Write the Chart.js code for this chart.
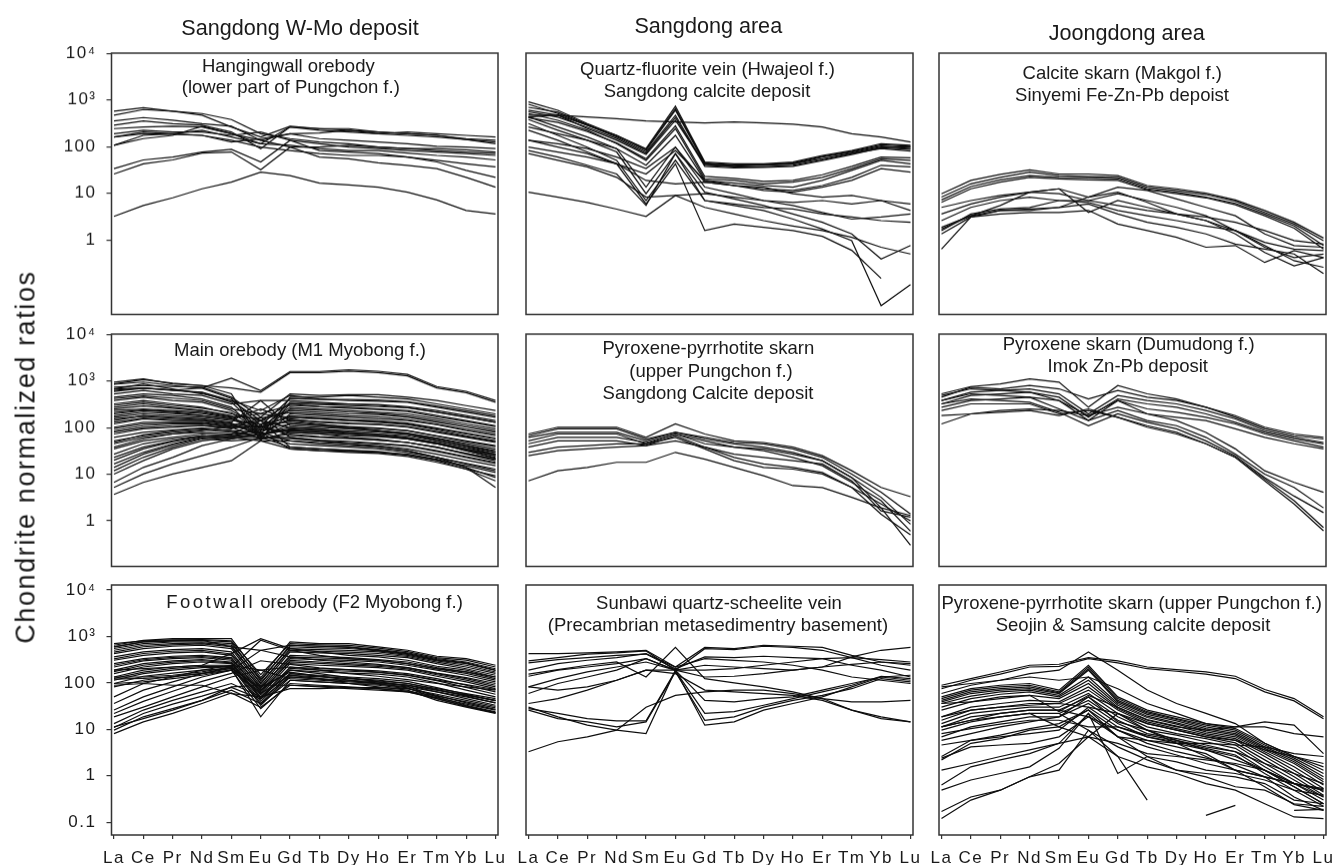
<!DOCTYPE html>
<html>
<head>
<meta charset="utf-8">
<script src="https://cdn.jsdelivr.net/npm/chart.js@4.4.1/dist/chart.umd.min.js"></script>
<style>
html, body { margin: 0; padding: 0; background: #fff; }
#fig { position: relative; width: 1337px; height: 865px; overflow: hidden;
       font-family: "Liberation Sans", Arial, sans-serif; color: #1a1a1a; }
.panel { position: absolute; }
.txt { position: absolute; white-space: nowrap; line-height: 1; transform: translateX(-50%); }
.ylab { position: absolute; white-space: nowrap; line-height: 1; transform: translate(-50%, -50%) rotate(-90deg); }
</style>
</head>
<body>
<div id="fig"></div>
<script>
/* AXES */
const REE = ["La", "Ce", "Pr", "Nd", "Sm", "Eu", "Gd", "Tb", "Dy", "Ho", "Er", "Tm", "Yb", "Lu"];
const Y_TICKS = [0.1, 1, 10, 100, 1000, 10000];
const Y_TICK_LABELS = ["0.1", "1", "10", "100", "10³", "10⁴"];

/* DATA: chondrite normalized REE, one row per sample, La..Lu */
const hangingwall = [
    [575, 686, 575, 513, 381, 190, 149, 126, 116, 98, 91, 83, 77, 71],
    [472, 625, 575, 472, 265, 161, 274, 244, 244, 207, 190, 175, 149, 137],
    [356, 421, 368, 312, 274, 137, 190, 197, 225, 190, 207, 190, 175, 161],
    [288, 356, 312, 288, 207, 91, 265, 225, 207, 190, 175, 161, 142, 126],
    [244, 265, 274, 265, 190, 137, 98, 98, 107, 98, 91, 91, 86, 77],
    [190, 225, 207, 207, 175, 207, 137, 116, 98, 91, 83, 77, 71, 65],
    [161, 207, 190, 225, 161, 116, 107, 91, 83, 83, 73, 65, 60, 52],
    [107, 149, 175, 274, 190, 116, 265, 244, 225, 207, 190, 175, 142, 116],
    [107, 175, 190, 175, 137, 98, 83, 71, 65, 65, 60, 51, 43, 37],
    [161, 190, 184, 175, 126, 149, 190, 149, 137, 126, 116, 102, 98, 91],
    [34, 52, 60, 77, 88, 47, 137, 83, 77, 71, 60, 47, 31, 22],
    [26, 43, 52, 73, 77, 32, 98, 60, 55, 45, 40, 34, 22, 13.6],
    [3.2, 5.5, 8, 12.5, 17.4, 28.5, 24, 16.5, 15.2, 13.6, 10.6, 7.2, 4.3, 3.6]
];

const quartzFluorite = [
    [434, 472, 434, 400, 355, 340, 323, 340, 323, 302, 265, 190, 161, 126],
    [912, 604, 312, 175, 91, 737, 47, 43, 43, 47, 65, 83, 116, 107],
    [810, 513, 288, 175, 83, 604, 43, 40, 40, 43, 60, 77, 103, 91],
    [700, 550, 300, 170, 88, 650, 45, 41, 41, 45, 62, 80, 110, 102],
    [604, 472, 288, 161, 77, 472, 40, 37, 37, 40, 52, 71, 91, 81],
    [560, 430, 260, 150, 72, 420, 38, 35, 36, 38, 50, 68, 95, 88],
    [472, 472, 244, 137, 68, 368, 42, 38, 42, 43, 55, 73, 98, 98],
    [513, 368, 225, 116, 51, 244, 20.5, 19, 16, 17.4, 22, 34, 55, 51],
    [420, 330, 210, 120, 55, 280, 23, 21, 18, 19, 25, 38, 60, 58],
    [265, 190, 137, 91, 40, 175, 19, 16.5, 14.7, 13.6, 19, 31, 51, 43],
    [137, 116, 91, 60, 34, 98, 17.4, 14.7, 12.5, 11.5, 14.7, 22, 40, 37],
    [98, 77, 60, 43, 26, 83, 19, 14.7, 11.5, 10.6, 13.6, 19, 34, 28.5],
    [434, 265, 161, 91, 13.6, 98, 13.6, 9.8, 7, 5.5, 3.9, 2.8, 3.1, 3.6],
    [381, 225, 137, 77, 9.8, 71, 10.6, 7.6, 5.5, 3.6, 2.4, 1.35, 0.39, 0.76],
    [312, 175, 98, 51, 7, 51, 7, 5.5, 4.3, 2.8, 1.72, 0.97, 0.039, 0.11],
    [225, 137, 77, 43, 5.9, 43, 1.59, 2.2, 1.87, 1.59, 1.2, 0.6, 0.15, null],
    [71, 51, 37, 22, 8.3, 9, 9.8, 8.3, 7, 6.4, 7, 5.9, 7, 5.9],
    [10.6, 8.3, 6.4, 4.6, 3.2, 9, 5, 3.6, 2.6, 2, 1.59, 1.14, 0.7, 0.5],
    [83, 60, 40, 26, 5.5, 71, 7, 5.9, 5, 4.6, 3.6, 3.1, 2.6, 2.4],
    [137, 98, 71, 43, 18.9, 16, 17.4, 14.7, 13.6, 9.8, 8.3, 9, 7, 4.3]
];

const calciteSkarn = [
    [9.8, 18.9, 25.5, 32, 26, 26, 24, 14.7, 12.5, 10.1, 7.2, 4.3, 2.4, 1.1],
    [8.3, 16, 22, 28.5, 24, 23, 22, 13.6, 11.5, 9.4, 6.8, 3.9, 2.2, 0.97],
    [7.2, 14, 19.5, 24, 22, 21.5, 20.5, 12.5, 10.6, 8.3, 6.1, 3.6, 2, 0.76],
    [6.4, 12.5, 17.4, 22, 20.5, 19.5, 18.9, 11.9, 9.8, 8, 5.7, 3.3, 1.8, 0.64],
    [5, 7, 9, 10.6, 12.5, 8.3, 13.6, 11.5, 7.6, 5, 3.3, 1.35, 0.76, 0.7],
    [3.6, 5.9, 8.3, 10.6, 9.8, 7, 5.5, 4.3, 3.6, 3.1, 2.4, 1.59, 0.97, 0.82],
    [2.6, 5, 7, 8.3, 7, 6.4, 4.3, 3.3, 2.6, 2, 1.59, 0.76, 0.36, 0.26],
    [1.87, 3.3, 4.3, 4.3, 5, 8.3, 10.6, 6.4, 3.6, 2.6, 1.59, 0.7, 0.42, 0.5],
    [1.72, 3.3, 5.5, 10.6, 12.5, 3.9, 7, 5, 3.6, 2.6, 1.35, 0.54, 0.28, 0.42],
    [1.35, 3.1, 4.3, 4.6, 5, 5.9, 3.6, 2.4, 1.87, 1.35, 0.82, 0.64, 0.5, 0.19],
    [0.64, 3.1, 3.6, 3.9, 3.9, 4.3, 2.2, 1.59, 1.14, 0.7, 0.76, 0.33, 0.59, 0.42],
    [1.59, 3.6, 4.6, 5, 7, 7, 9.8, 7, 5, 3.3, 1.59, 0.89, 0.64, 0.59]
];

const mainOrebody = [
    [944, 1114, 869, 800, 530, 52, 449, 449, 488, 449, 413, 323, 252, 197],
    [850, 950, 800, 700, 420, 110, 420, 400, 400, 390, 360, 290, 230, 180],
    [737, 800, 760, 737, 449, 167, 530, 488, 510, 510, 449, 381, 297, 232],
    [679, 869, 679, 530, 381, 232, 488, 413, 381, 370, 351, 274, 214, 167],
    [600, 700, 640, 560, 350, 90, 350, 330, 320, 300, 270, 215, 170, 130],
    [530, 625, 530, 488, 323, 381, 381, 351, 323, 312, 282, 232, 181, 142],
    [449, 530, 488, 413, 274, 73, 323, 282, 274, 252, 232, 181, 142, 110],
    [420, 480, 430, 380, 250, 200, 300, 280, 260, 245, 220, 170, 135, 105],
    [381, 449, 381, 351, 232, 102, 274, 252, 232, 214, 197, 154, 120, 94],
    [323, 381, 323, 274, 197, 142, 232, 214, 197, 191, 167, 130, 102, 79],
    [300, 350, 300, 260, 210, 85, 250, 235, 215, 200, 180, 140, 110, 85],
    [274, 323, 274, 232, 181, 62, 197, 181, 167, 154, 142, 116, 86, 67],
    [250, 290, 260, 230, 175, 160, 210, 195, 180, 170, 150, 118, 92, 72],
    [232, 252, 232, 214, 167, 197, 167, 154, 142, 137, 120, 94, 73, 57],
    [210, 240, 220, 200, 160, 100, 180, 165, 150, 140, 125, 98, 76, 60],
    [197, 232, 214, 181, 154, 79, 154, 130, 120, 116, 102, 79, 62, 48],
    [180, 215, 200, 180, 150, 250, 145, 135, 125, 118, 105, 82, 64, 50],
    [167, 197, 181, 167, 142, 120, 130, 116, 105, 98, 86, 67, 52, 41],
    [155, 175, 160, 150, 125, 65, 120, 110, 100, 95, 85, 66, 50, 39],
    [142, 181, 167, 154, 130, 381, 110, 102, 94, 86, 76, 60, 46, 35],
    [130, 160, 150, 140, 115, 140, 100, 92, 85, 80, 72, 56, 42, 32],
    [120, 154, 142, 142, 120, 73, 94, 86, 79, 73, 67, 52, 39, 29.5],
    [102, 130, 130, 130, 110, 102, 79, 73, 67, 64, 57, 45, 33, 25],
    [95, 120, 125, 125, 105, 90, 85, 78, 72, 68, 60, 47, 35, 27],
    [86, 110, 120, 120, 102, 57, 73, 64, 60, 54, 48, 38, 28, 21],
    [80, 100, 110, 112, 98, 110, 68, 62, 58, 54, 48, 37, 28, 21],
    [73, 94, 102, 110, 94, 167, 62, 54, 51, 46, 41, 32, 24, 18],
    [62, 79, 89, 98, 86, 79, 52, 48, 45, 41, 35, 27, 20, 15.2],
    [52, 67, 79, 89, 79, 67, 45, 41, 38, 35, 29.5, 23, 17, 12.9],
    [48, 70, 85, 95, 85, 60, 58, 52, 48, 45, 40, 31, 23, 17],
    [45, 62, 73, 79, 73, 142, 38, 35, 33, 31, 26, 20, 15.2, 10.9],
    [35, 52, 62, 73, 67, 79, 35, 32, 29.5, 28, 24, 18, 12.9, 9.3],
    [27, 45, 57, 67, 62, 62, 62, 52, 45, 38, 32, 23, 16.6, 11.9],
    [23, 38, 52, 67, 62, 102, 142, 120, 102, 86, 73, 52, 38, 27],
    [20, 35, 50, 65, 70, 88, 120, 110, 95, 85, 75, 58, 42, 30],
    [16.6, 29.5, 45, 62, 57, 73, 102, 94, 79, 73, 62, 48, 35, 25],
    [14, 27, 42, 60, 65, 70, 90, 85, 75, 68, 58, 45, 32, 22],
    [11.9, 23, 38, 57, 52, 57, 79, 73, 62, 57, 48, 38, 27, 19.5],
    [10.1, 19.5, 35, 52, 62, 52, 35, 32, 31, 29.5, 27, 21, 14, 8.5],
    [6.7, 14, 23, 41, 57, 73, 86, 79, 73, 67, 57, 45, 32, 23],
    [5.2, 10.1, 16.6, 25, 38, 62, 38, 35, 32, 29.5, 26, 19.5, 12.9, 7.2],
    [3.7, 6.7, 10.1, 14, 19.5, 52, 52, 45, 41, 38, 32, 23, 14, 5.2],
    [38, 57, 73, 86, 110, 120, 167, 154, 142, 130, 116, 89, 67, 52],
    [625, 710, 625, 575, 381, 142, 323, 312, 297, 282, 265, 214, 167, 130],
    [679, 710, 640, 710, 1150, 625, 1600, 1600, 1740, 1620, 1390, 760, 600, 381],
    [869, 1070, 900, 800, 710, 575, 1510, 1510, 1620, 1510, 1290, 710, 560, 351]
];

const pyrrhotiteSangdong = [
    [73, 102, 102, 102, 62, 120, 73, 52, 48, 38, 25, 11.9, 5.2, 3.3],
    [67, 94, 94, 94, 57, 79, 62, 48, 45, 35, 23, 10.1, 4.1, 1.4],
    [62, 79, 79, 79, 52, 79, 57, 45, 38, 29.5, 19.5, 8.5, 3.2, 0.85],
    [52, 73, 73, 73, 45, 73, 52, 38, 32, 23, 15.2, 6.7, 2.7, 0.6],
    [45, 62, 62, 62, 48, 73, 45, 38, 35, 27, 19.5, 8.5, 1.9, 0.3],
    [38, 52, 52, 52, 41, 67, 38, 27, 23, 19.5, 16.6, 7.2, 1.64, 1.2],
    [29.5, 38, 41, 45, 45, 62, 35, 19.5, 14, 12.9, 10.1, 5.2, 1.39, 0.5],
    [25, 32, 35, 38, 41, 52, 38, 23, 16.6, 14, 10.9, 5.2, 2.3, 1.0],
    [7.2, 11.9, 14, 18, 18, 29.5, 21, 14, 9.3, 5.7, 5.2, 3.2, 1.9, 1.3]
];

const pyroxeneImok = [
    [530, 760, 869, 1114, 944, 274, 800, 530, 413, 274, 181, 102, 73, 62],
    [449, 737, 679, 800, 679, 413, 625, 449, 381, 274, 167, 94, 67, 57],
    [381, 575, 625, 679, 530, 197, 488, 381, 323, 232, 154, 86, 62, 48],
    [323, 488, 530, 575, 449, 167, 413, 323, 274, 197, 130, 79, 57, 45],
    [274, 381, 413, 449, 381, 142, 381, 252, 214, 167, 120, 73, 52, 38],
    [181, 197, 232, 252, 232, 181, 274, 197, 167, 142, 94, 62, 45, 35],
    [488, 679, 625, 575, 381, 181, 381, 197, 142, 79, 35, 11.9, 6.7, 4.1],
    [381, 530, 488, 449, 252, 142, 232, 142, 110, 62, 27, 10.1, 5.2, 1.9],
    [323, 413, 381, 351, 214, 110, 197, 130, 94, 52, 25, 8.5, 3.4, 1.5],
    [232, 323, 323, 323, 197, 232, 167, 110, 79, 45, 23, 7.9, 2.7, 0.72],
    [120, 197, 214, 232, 181, 252, 167, 102, 73, 45, 23, 7.2, 2.3, 0.61]
];

const footwall = [
    [700, 800, 850, 860, 800, 150, 700, 660, 640, 560, 470, 350, 310, 220],
    [646, 827, 898, 898, 898, 130, 762, 701, 701, 595, 504, 375, 334, 240],
    [595, 762, 827, 827, 762, 110, 646, 615, 595, 522, 442, 334, 282, 202],
    [550, 700, 760, 770, 700, 120, 600, 570, 550, 490, 410, 310, 260, 185],
    [504, 646, 701, 725, 646, 95, 546, 522, 504, 465, 392, 297, 240, 172],
    [460, 600, 660, 690, 600, 100, 500, 480, 460, 430, 370, 280, 220, 160],
    [427, 546, 615, 646, 546, 85, 465, 442, 427, 392, 351, 260, 202, 146],
    [363, 465, 522, 546, 465, 75, 392, 375, 351, 318, 282, 214, 172, 124],
    [330, 430, 480, 500, 420, 80, 360, 345, 330, 300, 260, 200, 160, 115],
    [307, 392, 442, 465, 392, 68, 334, 318, 307, 282, 240, 188, 146, 105],
    [260, 334, 375, 392, 351, 60, 307, 282, 260, 240, 214, 158, 124, 89],
    [240, 315, 355, 370, 330, 65, 285, 262, 245, 228, 200, 150, 115, 82],
    [220, 297, 334, 351, 307, 55, 260, 240, 228, 214, 188, 139, 105, 75],
    [188, 260, 297, 318, 282, 50, 220, 202, 193, 181, 158, 124, 89, 64],
    [175, 240, 280, 300, 270, 48, 205, 188, 178, 168, 145, 112, 80, 57],
    [158, 220, 260, 282, 260, 45, 188, 172, 163, 154, 134, 100, 70, 50],
    [134, 188, 220, 240, 240, 40, 158, 146, 134, 124, 108, 79, 57, 41],
    [125, 170, 205, 228, 230, 36, 145, 135, 125, 115, 98, 72, 52, 37],
    [114, 158, 188, 214, 220, 33, 134, 124, 114, 105, 89, 64, 46, 33],
    [97, 139, 163, 188, 202, 18.6, 114, 105, 97, 89, 75, 54, 37, 27],
    [82, 114, 139, 158, 188, 28, 97, 89, 82, 75, 64, 46, 31, 22.6],
    [134, 134, 146, 172, 220, 70, 188, 158, 130, 105, 85, 50, 33, 23.7],
    [120, 125, 135, 160, 205, 80, 170, 140, 115, 95, 78, 46, 32, 23],
    [97, 105, 124, 146, 188, 59, 146, 124, 97, 82, 70, 42, 30, 22],
    [50, 97, 134, 188, 240, 188, 220, 188, 158, 139, 118, 97, 82, 70],
    [36, 70, 105, 158, 220, 827, 504, 392, 334, 307, 260, 202, 172, 134],
    [26, 50, 82, 134, 188, 504, 363, 307, 282, 250, 214, 163, 130, 97],
    [22, 40, 66, 108, 160, 300, 250, 210, 190, 170, 150, 115, 92, 72],
    [18.6, 30, 50, 82, 134, 188, 124, 114, 105, 97, 89, 70, 54, 42],
    [13.3, 26, 42, 64, 97, 50, 158, 139, 124, 110, 97, 75, 59, 46],
    [11, 22, 35, 52, 80, 45, 135, 120, 110, 100, 90, 70, 55, 42],
    [9.6, 18.6, 28, 42, 70, 36, 114, 105, 97, 94, 82, 64, 50, 37],
    [8.1, 14.5, 22, 36, 61, 30, 89, 85, 79, 75, 67, 52, 39, 29],
    [11.3, 17, 26, 42, 82, 89, 89, 82, 75, 70, 64, 48, 35, 26],
    [89, 97, 89, 89, 59, 50, 75, 75, 79, 79, 75, 57, 42, 31],
    [188, 202, 220, 240, 427, 898, 546, 465, 392, 363, 307, 228, 188, 134],
    [595, 762, 790, 827, 595, 504, 646, 615, 580, 504, 427, 318, 270, 188]
];

const sunbawi = [
    [427, 427, 442, 465, 504, 220, 580, 546, 646, 615, 580, 392, 282, 240],
    [297, 351, 418, 442, 488, 188, 546, 522, 615, 580, 504, 351, 240, 188],
    [270, 318, 351, 392, 418, 202, 363, 351, 375, 351, 334, 240, 188, 134],
    [188, 260, 307, 351, 427, 220, 334, 307, 282, 240, 188, 134, 114, 97],
    [154, 193, 240, 282, 134, 580, 124, 100, 82, 64, 46, 26, 18.6, 14.5],
    [82, 124, 172, 220, 282, 188, 188, 202, 240, 282, 334, 351, 318, 282],
    [59, 97, 134, 188, 334, 188, 134, 139, 158, 188, 220, 250, 282, 260],
    [36, 46, 70, 114, 188, 188, 240, 220, 202, 188, 220, 363, 504, 580],
    [30, 18.6, 12.3, 9.6, 8.1, 188, 12.3, 14.5, 26, 36, 50, 82, 134, 114],
    [26, 17, 14.5, 11.3, 14.5, 172, 15.7, 18.6, 30, 42, 54, 75, 124, 105],
    [28, 22, 17, 15.2, 15.2, 181, 22, 24, 33, 46, 64, 89, 139, 124],
    [3.3, 5.4, 6.9, 9.6, 30, 54, 64, 70, 70, 59, 46, 39, 39, 42],
    [82, 70, 82, 114, 188, 158, 70, 64, 59, 54, 42, 26, 17, 14.5],
    [139, 188, 220, 260, 334, 188, 42, 39, 46, 50, 70, 97, 134, 146]
];

const seojinSamsung = [
    [89, 124, 172, 240, 252, 351, 297, 220, 193, 172, 139, 72, 46, 18.6],
    [75, 114, 154, 220, 228, 334, 270, 202, 178, 154, 124, 64, 41, 17],
    [59, 89, 114, 158, 188, 465, 188, 70, 36, 22, 13.3, 5, 2.6, 1.56],
    [50, 75, 89, 97, 70, 240, 50, 26, 18.6, 13.3, 10.4, 5, 2.6, 1.32],
    [46, 70, 82, 89, 64, 220, 46, 24, 17, 12.3, 9.6, 4.6, 2.4, 1.12],
    [42, 64, 75, 82, 61, 202, 42, 22.6, 16.3, 11.3, 8.8, 4.2, 2.2, 0.95],
    [39, 59, 70, 75, 59, 188, 39, 21, 15.2, 10.4, 8.1, 3.9, 2, 0.83],
    [36, 52, 64, 70, 54, 134, 36, 19.2, 13.8, 9.6, 7.5, 3.6, 1.84, 0.74],
    [30, 46, 57, 64, 50, 114, 33, 18, 12.9, 8.8, 6.9, 3.3, 1.56, 0.63],
    [26, 39, 50, 54, 46, 97, 30, 16.3, 11.7, 8.1, 6.3, 3, 1.32, 0.53],
    [18.6, 30, 36, 42, 39, 82, 28, 14.5, 10.4, 7.5, 5.8, 2.6, 1.12, 0.45],
    [15.7, 26, 30, 36, 36, 70, 26, 13.3, 9.6, 6.9, 5.1, 2.2, 0.95, 0.38],
    [13.3, 22, 26, 30, 30, 59, 22, 11.3, 8.1, 6.3, 4.6, 1.84, 0.81, 0.35],
    [11.3, 18.6, 22, 26, 26, 50, 18.6, 9.6, 7.5, 5.4, 3.9, 1.56, 0.68, 0.3],
    [9.6, 14.5, 18.6, 22, 22, 42, 15.7, 8.1, 6.3, 4.6, 3.3, 1.32, 0.58, 0.25],
    [6.9, 11.3, 14.5, 18.6, 18.6, 36, 13.3, 6.9, 5.4, 3.9, 2.8, 1.12, 0.49, 0.22],
    [82, 97, 114, 134, 114, 134, 75, 36, 22, 13.3, 11.3, 11.3, 8.1, 6.9],
    [36, 39, 46, 54, 24, 54, 30, 15.7, 11.3, 9.6, 11.3, 14.5, 12.3, 3],
    [18.6, 26, 30, 33, 36, 30, 22, 9.6, 5, 2.6, 1.32, 0.95, 0.68, 0.49],
    [11.3, 15.7, 18.6, 22, 11.3, 6.9, 22, 13.3, 9.6, 6.9, 5.8, 3.6, 2.6, 1.84],
    [2.6, 5.8, 6.9, 8.1, 9.6, 30, 11.3, 6.9, 5, 3.6, 2.2, 1.32, 0.58, 0.25],
    [2.2, 5, 6.3, 9.6, 11.3, 26, 9.6, 5, 3.3, 2.4, 1.7, 0.95, 0.35, 0.18],
    [2.4, 4.2, 4.6, 5, 6.9, 18.6, 6.9, 4.2, 2.8, 1.84, 1.32, 0.95, 0.68, 0.53],
    [0.63, 1.56, 2.2, 3, 5, 22, 6.9, 5.8, 5, 5, 4.6, 4.2, 3, 2.6],
    [0.49, 0.81, 1.12, 1.56, 3.9, 22, 1.12, 2.6, 2, 1.32, 1.12, 0.81, 0.49, 0.38],
    [1.32, 1.84, 2.6, 3.6, 5, 6.9, 5, 3, 2.6, 2.2, 1.84, 1.32, 0.68, 0.49],
    [0.17, 0.35, 0.49, 0.95, 1.32, 9.6, 4.2, 2.2, 1.32, 1.12, 0.95, 0.68, 0.3, 0.25],
    [0.12, 0.3, 0.49, 0.95, 1.84, 6.9, 2.6, 1.56, 1.12, 0.68, 0.49, 0.25, 0.13, 0.12],
    [5.8, 8.1, 11.3, 14.5, 18.6, 50, 14.5, 9.6, 5.8, 3.6, 2.6, 1.32, 0.68, 0.35],
    [8.1, 10.4, 12.9, 15.7, 15.7, 11.3, 11.3, 7.5, 5.8, 4.2, 3.3, 1.84, 1.12, 0.68],
    [4.6, 5.8, 7.5, 10.4, 13.3, 26, 6.9, 2.6, 1.32, 0.95, 0.58, 0.49, 0.25, 0.22],
    [11.3, 15.7, 22, 26, 26, 18.6, 9.6, 5.8, 4.2, 3, 1.32, 0.58, 0.24, 0.18],
    [null, null, null, null, 22, 9.6, 2.6, 0.3, null, null, null, null, null, null],
    [null, null, null, null, null, null, null, null, null, 0.14, 0.23, null, null, null],
    [null, null, null, null, null, null, null, null, null, null, null, null, 0.18, 0.19]
];

/* LAYOUT */
const fig = document.getElementById("fig");
const INK = "#0d0d0d";
const PAD_X = 24;
const PAD_Y = 24;
const COLS = [
    { left: 111.5, width: 386.5 },
    { left: 526, width: 387 },
    { left: 938.5, width: 387 }
];
const ROWS = [
    { top: 53, height: 260.5, min: Math.pow(10, -1.596), max: Math.pow(10, 4.006), lowest: 1 },
    { top: 334, height: 231.5, min: Math.pow(10, -0.978), max: Math.pow(10, 4.006), lowest: 1 },
    { top: 585, height: 250, min: Math.pow(10, -1.275), max: Math.pow(10, 4.108), lowest: 0.1 }
];

/* PLUGINS */
const framePlugin = {
    id: "frame",
    afterDatasetsDraw(chart) {
        const { ctx, chartArea: a } = chart;
        ctx.save();
        ctx.strokeStyle = "#333";
        ctx.lineWidth = 1.5;
        ctx.strokeRect(a.left, a.top, a.right - a.left, a.bottom - a.top);
        ctx.restore();
    }
};
const spacingPlugin = {
    id: "spacing",
    beforeDraw(chart) { chart.ctx.letterSpacing = "1.5px"; }
};

Chart.defaults.font.family = '"Liberation Sans", Arial, sans-serif';

function makePanel(row, col, lines) {
    const r = ROWS[row], c = COLS[col];
    const hasY = col === 0;
    const hasX = row === 2;
    const left = hasY ? 0 : c.left - PAD_X;
    const top = r.top - PAD_Y;
    const width = c.left + c.width + PAD_X - left;
    const height = hasX ? 865 - top : r.height + 2 * PAD_Y;

    const holder = document.createElement("div");
    holder.className = "panel";
    holder.style.left = left + "px";
    holder.style.top = top + "px";
    holder.style.width = width + "px";
    holder.style.height = height + "px";
    const canvas = document.createElement("canvas");
    holder.appendChild(canvas);
    fig.appendChild(holder);

    new Chart(canvas, {
        type: "line",
        data: {
            datasets: lines.map(v => ({
                data: v.map((y, i) => ({ x: i, y: y })),
                borderColor: INK,
                borderWidth: 1.2,
                pointRadius: 0,
                tension: 0,
                fill: false
            }))
        },
        options: {
            responsive: true,
            maintainAspectRatio: false,
            animation: false,
            events: [],
            layout: { padding: { left: hasY ? 0 : PAD_X, right: PAD_X, top: PAD_Y, bottom: hasX ? 0 : PAD_Y } },
            plugins: { legend: { display: false }, tooltip: { enabled: false } },
            scales: {
                x: {
                    type: "linear",
                    min: -0.085,
                    max: 13.085,
                    display: hasX,
                    border: { display: false },
                    grid: { drawOnChartArea: false, tickLength: 4, color: "#333", lineWidth: 1.2 },
                    ticks: {
                        autoSkip: false, maxRotation: 0, minRotation: 0, padding: 9,
                        color: "#1a1a1a", font: { size: 17 },
                        callback: v => REE[Math.round(v)]
                    },
                    afterBuildTicks: s => { s.ticks = REE.map((_, i) => ({ value: i })); },
                    afterFit: s => { if (hasX) s.height = 865 - (r.top + r.height); }
                },
                y: {
                    type: "logarithmic",
                    min: r.min,
                    max: r.max,
                    display: hasY,
                    border: { display: false },
                    grid: { drawOnChartArea: false, tickLength: 5, color: "#333", lineWidth: 1.2 },
                    ticks: {
                        padding: 10, color: "#1a1a1a", font: { size: 17 },
                        callback: v => Y_TICK_LABELS[Y_TICKS.indexOf(v)]
                    },
                    afterBuildTicks: s => { s.ticks = Y_TICKS.filter(t => t >= r.lowest).map(t => ({ value: t })); },
                    afterFit: s => { if (hasY) s.width = c.left; }
                }
            }
        },
        plugins: [framePlugin, spacingPlugin]
    });
}

makePanel(0, 0, hangingwall);
makePanel(0, 1, quartzFluorite);
makePanel(0, 2, calciteSkarn);
makePanel(1, 0, mainOrebody);
makePanel(1, 1, pyrrhotiteSangdong);
makePanel(1, 2, pyroxeneImok);
makePanel(2, 0, footwall);
makePanel(2, 1, sunbawi);
makePanel(2, 2, seojinSamsung);

/* TEXT */
function addText(html, cx, baseline, size, spacing) {
    const d = document.createElement("div");
    d.className = "txt";
    d.innerHTML = html;
    d.style.left = cx + "px";
    d.style.top = (baseline - 0.85 * size) + "px";
    d.style.fontSize = size + "px";
    if (spacing) d.style.letterSpacing = spacing + "px";
    fig.appendChild(d);
}

addText("Sangdong W-Mo deposit", 300, 35, 21.6);
addText("Sangdong area", 708.3, 33.3, 21.6);
addText("Joongdong area", 1126.7, 40.7, 21.6);

addText("Hangingwall orebody", 288.3, 72.7, 18.5);
addText("(lower part of Pungchon f.)", 290.8, 94, 18.5);
addText("Quartz-fluorite vein (Hwajeol f.)", 707.5, 76, 18.5);
addText("Sangdong calcite deposit", 707, 97.3, 18.5);
addText("Calcite skarn (Makgol f.)", 1122.3, 79.3, 18.5);
addText("Sinyemi Fe-Zn-Pb depoist", 1122, 102, 18.5);

addText("Main orebody (M1 Myobong f.)", 300, 356.7, 18.5);
addText("Pyroxene-pyrrhotite skarn", 708.3, 355, 18.5);
addText("(upper Pungchon f.)", 711, 377.3, 18.5);
addText("Sangdong Calcite deposit", 708, 399.3, 18.5);
addText("Pyroxene skarn (Dumudong f.)", 1128.7, 351, 18.5);
addText("Imok Zn-Pb deposit", 1127.8, 372.7, 18.5);

addText('<span style="letter-spacing:2.5px">Footwall</span> orebody (F2 Myobong f.)', 314.5, 608.3, 18.5);
addText("Sunbawi quartz-scheelite vein", 719, 609.3, 18.5);
addText("(Precambrian metasedimentry basement)", 718, 631.7, 18.5);
addText("Pyroxene-pyrrhotite skarn (upper Pungchon f.)", 1131.7, 609.3, 18.5);
addText("Seojin &amp; Samsung calcite deposit", 1133, 631.7, 18.5);

const ylab = document.createElement("div");
ylab.className = "ylab";
ylab.textContent = "Chondrite normalized ratios";
ylab.style.left = "25.6px";
ylab.style.top = "457px";
ylab.style.fontSize = "27px";
ylab.style.letterSpacing = "1.6px";
fig.appendChild(ylab);
</script>
</body>
</html>
